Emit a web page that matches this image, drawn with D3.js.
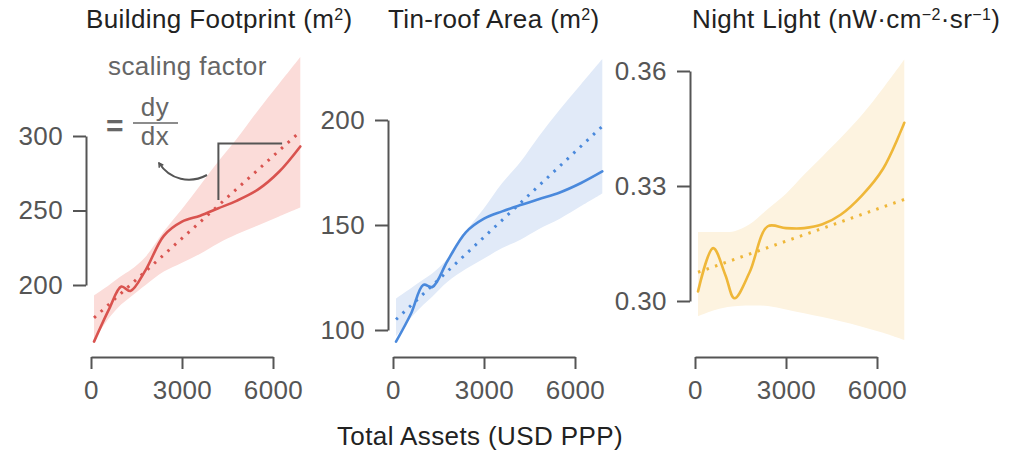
<!DOCTYPE html>
<html>
<head>
<meta charset="utf-8">
<script src="https://cdn.jsdelivr.net/npm/d3@7"></script>
<style>
  body { margin: 0; background: #fff; }
  text { font-family: "Liberation Sans", Arial, Helvetica, sans-serif; letter-spacing: 0.4px; }
</style>
</head>
<body>
<script>

// x grid (total assets, USD PPP) shared by the three panels
var assets = [100, 600, 1000, 1300, 1800, 2400, 3000, 3600, 4200, 4800, 5500, 6200, 6900];
var fitAssets = [100, 6900];
var xTicks = [0, 3000, 6000];

// building footprint (m2)
var footprintMean  = [162, 184, 199, 196, 210, 233, 242.5, 246.5, 251.5, 256.5, 264, 276, 293];
var footprintUpper = [193, 200, 206, 210, 219, 236, 251, 267, 283, 298, 317, 335, 353];
var footprintLower = [163, 178, 187, 192, 200, 209, 215, 221, 228, 234, 240, 246, 252];
var footprintFit   = [178, 303];
var footprintTicks = [200, 250, 300];

// tin-roof area (m2)
var tinMean  = [94.5, 108, 121.5, 120.5, 133, 146.5, 153, 156.5, 159.5, 162.3, 165.5, 170, 175.5];
var tinUpper = [115, 120, 124, 127, 134, 147, 158, 170, 180, 192, 205, 217, 229];
var tinLower = [97, 106, 112, 116, 123, 129, 134, 139, 143, 148, 153, 159, 165];
var tinFit   = [105, 197];
var tinTicks = [100, 150, 200];

// night light
var lightMean  = [0.3025, 0.3138, 0.3068, 0.3007, 0.3075, 0.3195, 0.3190, 0.3190, 0.3200, 0.3225, 0.3275, 0.3345, 0.3465];
var lightUpper = [0.318, 0.318, 0.318, 0.3182, 0.320, 0.324, 0.328, 0.333, 0.3377, 0.3425, 0.3485, 0.3555, 0.363];
var lightLower = [0.296, 0.2975, 0.2983, 0.2986, 0.2988, 0.2987, 0.2978, 0.2968, 0.2958, 0.2947, 0.2933, 0.2917, 0.2898];
var lightFit   = [0.3075, 0.3265];
var lightTicks = [0.30, 0.33, 0.36];

// slope annotation on the first panel
var slopeX = [4200, 6300];
var slopeY = [257, 295];

function main() {

  var width = 1017;
  var height = 453;
  var axisColor = '#555';
  var fontSize = '26px';

  var svg = d3.select("body")
    .append("svg")
    .attr('width', width)
    .attr('height', height);

  var defs = svg.append('defs');
  defs.append('marker')
    .attr('id', 'arrow')
    .attr('viewBox', '0 0 10 10')
    .attr('refX', 8).attr('refY', 5)
    .attr('markerWidth', 6).attr('markerHeight', 6)
    .attr('markerUnits', 'userSpaceOnUse')
    .attr('orient', 'auto')
    .append('path')
    .attr('d', 'M1,1L8,5L1,9')
    .attr('fill', 'none')
    .attr('stroke', axisColor)
    .attr('stroke-width', 2.5);

  var panels = [
    { mean: footprintMean, upper: footprintUpper, lower: footprintLower, fit: footprintFit,
      ticks: footprintTicks, fmt: d3.format('d'), left: 86, yRange: [285, 136],
      line: '#d9534f', band: '#fbdcd9' },
    { mean: tinMean, upper: tinUpper, lower: tinLower, fit: tinFit,
      ticks: tinTicks, fmt: d3.format('d'), left: 388, yRange: [330, 120],
      line: '#4a89dc', band: '#e1eaf8' },
    { mean: lightMean, upper: lightUpper, lower: lightLower, fit: lightFit,
      ticks: lightTicks, fmt: d3.format('.2f'), left: 690, yRange: [301, 71],
      line: '#efb739', band: '#fdf3e0' }
  ];

  var scales = [];

  panels.forEach(function (p, k) {
    var x = d3.scaleLinear().domain([0, 6000]).range([p.left + 5, p.left + 187]);
    var y = d3.scaleLinear().domain([p.ticks[0], p.ticks[2]]).range(p.yRange);
    scales.push({ x: x, y: y });

    var g = svg.append('g');

    var rows = assets.map(function (a, i) {
      return { a: a, m: p.mean[i], hi: p.upper[i], lo: p.lower[i] };
    });

    var area = d3.area()
      .x(function (d) { return x(d.a); })
      .y0(function (d) { return y(d.lo); })
      .y1(function (d) { return y(d.hi); })
      .curve(d3.curveCatmullRom);

    g.append('path')
      .datum(rows)
      .attr('d', area)
      .attr('fill', p.band);

    var line = d3.line()
      .x(function (d) { return x(d.a); })
      .y(function (d) { return y(d.m); })
      .curve(d3.curveCatmullRom);

    g.append('path')
      .datum(fitAssets.map(function (a, i) { return { a: a, m: p.fit[i] }; }))
      .attr('d', line)
      .attr('fill', 'none')
      .attr('stroke', p.line)
      .attr('stroke-width', 3)
      .attr('stroke-dasharray', '2.5 6.5');

    g.append('path')
      .datum(rows)
      .attr('d', line)
      .attr('fill', 'none')
      .attr('stroke', p.line)
      .attr('stroke-width', 2.6)
      .attr('stroke-linecap', 'round');

    // axes, range-frame style
    var yAxis = g.append('g')
      .attr('transform', 'translate(' + p.left + ',0)')
      .call(d3.axisLeft(y).tickValues(p.ticks).tickFormat(p.fmt)
        .tickSize(13).tickSizeOuter(0).tickPadding(10));

    var xAxis = g.append('g')
      .attr('transform', 'translate(0,357)')
      .call(d3.axisBottom(x).tickValues(xTicks).tickFormat(d3.format('d'))
        .tickSize(12).tickSizeOuter(0).tickPadding(12));

    [yAxis, xAxis].forEach(function (ax) {
      ax.select('.domain').attr('stroke', axisColor).attr('stroke-width', 2);
      ax.selectAll('.tick line').attr('stroke', axisColor).attr('stroke-width', 2);
      ax.selectAll('.tick text')
        .attr('fill', '#555')
        .style('font-size', fontSize)
        .style('font-family', '"Liberation Sans", Arial, sans-serif');
    });
  });

  // titles
  var t1 = svg.append('text').attr('x', 86).attr('y', 28)
    .attr('fill', '#222').style('font-size', fontSize);
  t1.append('tspan').text('Building Footprint (m');
  t1.append('tspan').attr('baseline-shift', 'super').style('font-size', '16px').text('2');
  t1.append('tspan').text(')');

  var t2 = svg.append('text').attr('x', 388).attr('y', 28)
    .attr('fill', '#222').style('font-size', fontSize);
  t2.append('tspan').text('Tin-roof Area (m');
  t2.append('tspan').attr('baseline-shift', 'super').style('font-size', '16px').text('2');
  t2.append('tspan').text(')');

  var t3 = svg.append('text').attr('x', 692).attr('y', 28)
    .attr('fill', '#222').style('font-size', fontSize);
  t3.append('tspan').text('Night Light (nW\u00b7cm');
  t3.append('tspan').attr('baseline-shift', 'super').style('font-size', '16px').text('\u22122');
  t3.append('tspan').text('\u00b7sr');
  t3.append('tspan').attr('baseline-shift', 'super').style('font-size', '16px').text('\u22121');
  t3.append('tspan').text(')');

  svg.append('text')
    .attr('x', 480).attr('y', 445)
    .attr('text-anchor', 'middle')
    .attr('fill', '#222')
    .style('font-size', fontSize)
    .text('Total Assets (USD PPP)');

  // scaling factor annotation
  var x0 = scales[0].x, y0 = scales[0].y;
  var note = svg.append('g').attr('fill', '#666');
  note.append('text').attr('x', 108).attr('y', 75).style('font-size', fontSize).text('scaling factor');
  note.append('text').attr('x', 106).attr('y', 136).style('font-size', '30px')
    .style('font-weight', 'bold').text('=');
  note.append('text').attr('x', 155).attr('y', 116).attr('text-anchor', 'middle')
    .style('font-size', fontSize).text('dy');
  note.append('text').attr('x', 155).attr('y', 145).attr('text-anchor', 'middle')
    .style('font-size', fontSize).text('dx');
  note.append('line').attr('x1', 133).attr('x2', 178).attr('y1', 123).attr('y2', 123)
    .attr('stroke', '#666').attr('stroke-width', 1.5);

  note.append('path')
    .attr('d', 'M207,175C190,184 170,180 159,163')
    .attr('fill', 'none')
    .attr('stroke', axisColor)
    .attr('stroke-width', 2)
    .attr('marker-end', 'url(#arrow)');

  svg.append('path')
    .attr('d', 'M' + x0(slopeX[0]) + ',' + y0(slopeY[0]) +
      'V' + y0(slopeY[1]) + 'H' + x0(slopeX[1]))
    .attr('fill', 'none')
    .attr('stroke', axisColor)
    .attr('stroke-width', 2);
}

main();
</script>
</body>
</html>
